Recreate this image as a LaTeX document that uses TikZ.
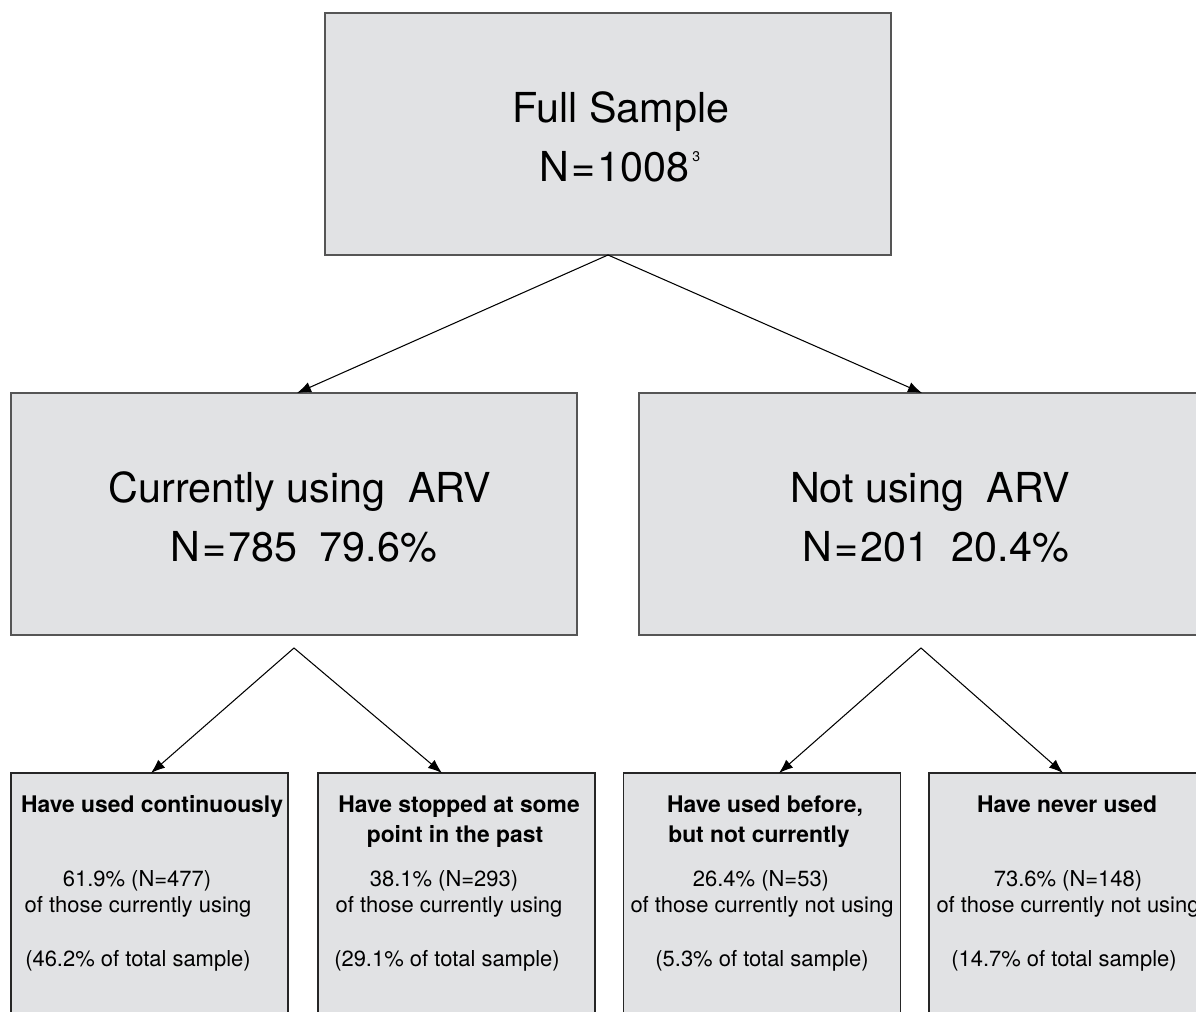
\documentclass[tikz,border=0pt]{standalone}
\usepackage{fontspec}
\setmainfont{TeX Gyre Heros}
\usetikzlibrary{arrows.meta,calc}
\definecolor{boxfill}{HTML}{E1E2E4}
\definecolor{boxline}{HTML}{555555}
\begin{document}
\begin{tikzpicture}[x=0.02cm,y=-0.02cm,
  bigbox/.style={draw=boxline,line width=1.1pt,fill=boxfill,minimum width=11.34cm,minimum height=4.84cm,inner sep=0pt,outer sep=0pt},
  smallbox/.style={draw=black!85,line width=0.7pt,fill=boxfill,minimum width=5.54cm,minimum height=5.6cm,inner sep=0pt,outer sep=0pt},
  bigtxt/.style={anchor=base,inner sep=0pt,font=\fontsize{23.5}{28}\selectfont},
  ttl/.style={anchor=base,inner sep=0pt,font=\fontsize{13}{15}\selectfont\bfseries},
  reg/.style={anchor=base,inner sep=0pt,font=\fontsize{12.5}{15}\selectfont},
  arr/.style={draw=black,line width=0.6pt,-{Latex[length=8pt,width=6pt]}}
]
\useasboundingbox (0,0) rectangle (1196,1011);
\clip (0,0) rectangle (1196,1011);

% boxes
\node[bigbox] (top) at (608,134) {};
\node[bigbox] (ml) at (294,514) {};
\node[bigbox] (mr) at (922,514) {};
\node[smallbox] (b1) at (149.5,913) {};
\node[smallbox] (b2) at (456.5,913) {};
\node[smallbox] (b3) at (762,913) {};
\node[smallbox] (b4) at (1067.5,913) {};

% top text
\node[bigtxt] (t0a) at (621,122) {Full Sample};
\node[bigtxt] (t0b) at (620,181) {N{\kern1pt}={\kern1pt}1008\hspace{2pt}\raisebox{11pt}{\fontsize{8}{8}\selectfont 3}};

% middle text
\node[bigtxt] (tla) at (300,502) {Currently using\hspace{0.55em}ARV};
\node[bigtxt] (tlb) at (304,561) {N{\kern1pt}={\kern1pt}785\hspace{0.55em}79.6\%};
\node[bigtxt] (tra) at (930,502) {Not using\hspace{0.55em}ARV};
\node[bigtxt] (trb) at (936,561) {N{\kern1pt}={\kern1pt}201\hspace{0.55em}20.4\%};

% bottom box 1
\node[ttl] (h1) at (152,812) {Have used continuously};
\node[reg] (r1a) at (137,886) {61.9\% (N=477)};
\node[reg] (r1b) at (138,912) {of those currently using};
\node[reg] (r1c) at (138,966) {(46.2\% of total sample)};

% bottom box 2
\node[ttl] (h2a) at (459,812) {Have stopped at some};
\node[ttl] (h2b) at (455,842) {point in the past};
\node[reg] (r2a) at (444,886) {38.1\% (N=293)};
\node[reg] (r2b) at (449,912) {of those currently using};
\node[reg] (r2c) at (447,966) {(29.1\% of total sample)};

% bottom box 3
\node[ttl] (h3a) at (765,812) {Have used before,};
\node[ttl] (h3b) at (759,842) {but not currently};
\node[reg] (r3a) at (761,886) {26.4\% (N=53)};
\node[reg] (r3b) at (762,912) {of those currently not using};
\node[reg] (r3c) at (762,966) {(5.3\% of total sample)};

% bottom box 4
\node[ttl] (h4) at (1067,812) {Have never used};
\node[reg] (r4a) at (1068,886) {73.6\% (N=148)};
\node[reg] (r4b) at (1068,912) {of those currently not using};
\node[reg] (r4c) at (1064,966) {(14.7\% of total sample)};

% connectors
\coordinate (ta) at (top.south);
\coordinate (la) at ($(ml.south)+(0,13)$);
\coordinate (ra) at ($(mr.south)+(-1,13)$);
\draw[arr] (ta) -- ($(ml.north)+(3,0)$);
\draw[arr] (ta) -- (mr.north);
\draw[arr] (la) -- ($(b1.north)+(1.5,0)$);
\draw[arr] (la) -- ($(b2.north)+(-14.5,0)$);
\draw[arr] (ra) -- ($(b3.north)+(17,0)$);
\draw[arr] (ra) -- ($(b4.north)+(-4.5,0)$);
\end{tikzpicture}
\end{document}
